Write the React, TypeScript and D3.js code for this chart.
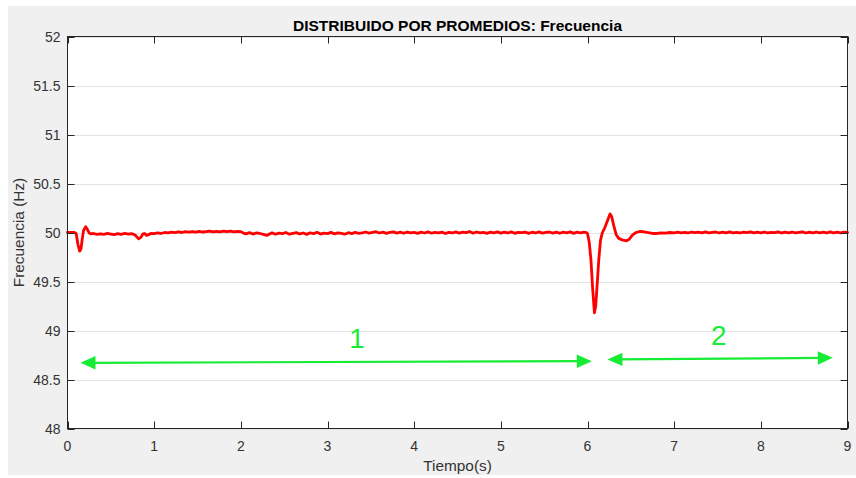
import React from "react";
import * as d3 from "d3";

const W = 856;
const H = 478;

const title = "DISTRIBUIDO POR PROMEDIOS: Frecuencia";
const xLabel = "Tiempo(s)";
const yLabel = "Frecuencia (Hz)";
const xTicks = [0, 1, 2, 3, 4, 5, 6, 7, 8, 9];
const yTicks = [48, 48.5, 49, 49.5, 50, 50.5, 51, 51.5, 52];

// [time (s), frequency (Hz)]
const transient1: [number, number][] = [
  [0, 50.0], [0.04, 50.0], [0.08, 50.0], [0.1, 49.99], [0.12, 49.88], [0.14, 49.81],
  [0.155, 49.83], [0.17, 49.93], [0.185, 50.02], [0.21, 50.06], [0.23, 50.03],
  [0.25, 49.995], [0.27, 49.985], [0.3, 49.99],
  [0.34, 49.98], [0.38, 49.987], [0.42, 49.982], [0.46, 49.99], [0.5, 49.984], [0.54, 49.978],
  [0.58, 49.988], [0.62, 49.982], [0.66, 49.99], [0.7, 49.983], [0.74, 49.988], [0.78, 49.975],
  [0.8, 49.955], [0.82, 49.935], [0.845, 49.95], [0.87, 49.985], [0.89, 49.99], [0.91, 49.97],
  [0.93, 49.975], [0.96, 49.99],
];

const steady1: [number, number][] = [
  [1.0, 49.988], [1.04, 49.995], [1.08, 49.99], [1.12, 50.0], [1.16, 49.996], [1.2, 50.004],
  [1.24, 49.998], [1.28, 50.006], [1.32, 50.0], [1.36, 50.009], [1.4, 50.003], [1.44, 50.01],
  [1.48, 50.004], [1.52, 50.012], [1.56, 50.005], [1.6, 50.01], [1.64, 50.014], [1.68, 50.006],
  [1.72, 50.012], [1.76, 50.007], [1.8, 50.015], [1.84, 50.008], [1.88, 50.013], [1.92, 50.006],
  [1.96, 50.012], [2.0, 50.009],
  [2.03, 49.994], [2.06, 49.986], [2.1, 49.999], [2.14, 49.984], [2.18, 49.996], [2.22, 49.99],
  [2.26, 49.98], [2.3, 49.97], [2.33, 49.985], [2.36, 49.996], [2.4, 49.982], [2.44, 49.994],
  [2.48, 49.988], [2.52, 50.0], [2.56, 49.983], [2.6, 49.992], [2.64, 49.999], [2.68, 49.985],
  [2.72, 49.995], [2.76, 49.981], [2.8, 49.997], [2.84, 49.989], [2.88, 50.002], [2.92, 49.984],
  [2.96, 49.994], [3.0, 49.988], [3.04, 50.001], [3.08, 49.986], [3.12, 49.997], [3.16, 49.99],
  [3.2, 49.983], [3.24, 49.998], [3.28, 49.988], [3.32, 50.001], [3.36, 49.992], [3.4, 49.996],
  [3.44, 50.005], [3.48, 49.993], [3.52, 50.002], [3.56, 50.008], [3.6, 49.995], [3.64, 50.004],
  [3.68, 49.991], [3.72, 50.001], [3.76, 50.006], [3.8, 49.994], [3.84, 50.003], [3.88, 49.992],
  [3.92, 50.005], [3.96, 49.997], [4.0, 50.002], [4.04, 49.991], [4.08, 50.004], [4.12, 49.995],
  [4.16, 50.007], [4.2, 49.993], [4.24, 50.001], [4.28, 49.996], [4.32, 50.004], [4.36, 49.99],
  [4.4, 50.002], [4.44, 49.995], [4.48, 50.006], [4.52, 49.994], [4.56, 50.003], [4.6, 49.998],
  [4.64, 50.01], [4.68, 49.993], [4.72, 50.005], [4.76, 49.996], [4.8, 50.002], [4.84, 49.991],
  [4.88, 50.004], [4.92, 49.997], [4.96, 50.006], [5.0, 49.993], [5.04, 50.003], [5.08, 49.995],
  [5.12, 50.007], [5.16, 49.992], [5.2, 50.002], [5.24, 49.998], [5.28, 50.005], [5.32, 49.991],
  [5.36, 50.003], [5.4, 49.995], [5.44, 50.006], [5.48, 49.993], [5.52, 50.001], [5.56, 50.005],
  [5.6, 49.994], [5.64, 50.004], [5.68, 49.992], [5.72, 50.003], [5.76, 49.996], [5.8, 50.006],
  [5.84, 49.991], [5.88, 50.004], [5.92, 49.995], [5.96, 50.003], [5.99, 49.998],
];

const transient2: [number, number][] = [
  [6.0, 49.99], [6.02, 49.9], [6.04, 49.72], [6.06, 49.42], [6.08, 49.18], [6.095, 49.25],
  [6.11, 49.45], [6.13, 49.72], [6.15, 49.92], [6.17, 49.995], [6.2, 50.05], [6.23, 50.12],
  [6.26, 50.19], [6.28, 50.16], [6.3, 50.08], [6.33, 49.98], [6.36, 49.94], [6.4, 49.925],
  [6.45, 49.915], [6.48, 49.93], [6.52, 49.975], [6.56, 50.0], [6.6, 50.01], [6.64, 50.008],
  [6.7, 49.998], [6.75, 49.99], [6.8, 49.99], [6.85, 49.995], [6.9, 49.993], [6.95, 50.0],
];

const steady2: [number, number][] = [
  [7.0, 49.996], [7.04, 50.004], [7.08, 49.997], [7.12, 50.002], [7.16, 49.995], [7.2, 50.005],
  [7.24, 49.998], [7.28, 50.003], [7.32, 49.996], [7.36, 50.006], [7.4, 49.997], [7.44, 50.002],
  [7.48, 50.005], [7.52, 49.995], [7.56, 50.003], [7.6, 49.997], [7.64, 50.006], [7.68, 49.996],
  [7.72, 50.002], [7.76, 49.995], [7.8, 50.004], [7.84, 49.998], [7.88, 50.006], [7.92, 49.996],
  [7.96, 50.003], [8.0, 49.997], [8.04, 50.005], [8.08, 49.995], [8.12, 50.002], [8.16, 49.998],
  [8.2, 50.006], [8.24, 49.995], [8.28, 50.003], [8.32, 49.997], [8.36, 50.005], [8.4, 49.996],
  [8.44, 50.002], [8.48, 50.006], [8.52, 49.995], [8.56, 50.004], [8.6, 49.997], [8.64, 50.005],
  [8.68, 49.996], [8.72, 50.003], [8.76, 49.995], [8.8, 50.006], [8.84, 49.997], [8.88, 50.003],
  [8.92, 49.996], [8.96, 50.004], [9.0, 50.0],
];

// annotation arrows: [t0, f0, t1, f1]
const arrows: [number, number, number, number][] = [
  [0.15, 48.67, 6.05, 48.687],
  [6.23, 48.704, 8.83, 48.721],
];
const arrowLabels: { text: string; t: number; f: number }[] = [
  { text: "1", t: 3.34, f: 48.823 },
  { text: "2", t: 7.515, f: 48.857 },
];

const FONT = "'Liberation Sans', Arial, Helvetica, sans-serif";
const GREEN = "rgb(22,236,52)";

export default function App() {
  const left = 67.5, right = 847.5, top = 36.5, bottom = 428.5;
  const x = d3.scaleLinear().domain([0, 9]).range([left, right]);
  const y = d3.scaleLinear().domain([48, 52]).range([bottom, top]);
  const data = [...transient1, ...steady1, ...transient2, ...steady2];
  const line = d3
    .line<[number, number]>()
    .x((d) => x(d[0]))
    .y((d) => y(d[1]))
    .curve(d3.curveLinear);
  const tickLen = 7;
  const axisColor = "#262626";

  const arrowHead = (tipX: number, tipY: number, dx: number, dy: number) => {
    const len = Math.hypot(dx, dy);
    const ux = dx / len, uy = dy / len;
    const L = 15, hw = 6.7;
    const bx = tipX - ux * L, by = tipY - uy * L;
    const px = -uy, py = ux;
    return `M${tipX},${tipY}L${bx + px * hw},${by + py * hw}L${bx - px * hw},${by - py * hw}Z`;
  };

  return (
    <svg
      width={W}
      height={H}
      style={{ position: "absolute", left: 0, top: 0, display: "block" }}
      fontFamily={FONT}
    >
      <rect x={0} y={0} width={W} height={H} fill="#ffffff" />
      <rect x={8} y={6} width={W - 8} height={469} fill="#f0f0f0" />
      <rect x={left} y={top} width={right - left} height={bottom - top} fill="#ffffff" />
      {/* grid */}
      {yTicks.map((v) => (
        <line key={"g" + v} x1={left} x2={right} y1={Math.round(y(v)) + 0.5} y2={Math.round(y(v)) + 0.5} stroke="#e3e3e3" strokeWidth={1} />
      ))}
      {/* data line */}
      <path d={line(data) || ""} fill="none" stroke="#ff0000" strokeWidth={2.8} strokeLinejoin="round" strokeLinecap="round" />
      {/* arrows */}
      {arrows.map((a, i) => {
        const x0 = x(a[0]), y0 = y(a[1]), x1 = x(a[2]), y1 = y(a[3]);
        const dx = x1 - x0, dy = y1 - y0;
        return (
          <g key={"a" + i}>
            <line x1={x0 + 8} y1={y0 + (dy / dx) * 8} x2={x1 - 8} y2={y1 - (dy / dx) * 8} stroke={GREEN} strokeWidth={2.2} />
            <path d={arrowHead(x1, y1, dx, dy)} fill={GREEN} />
            <path d={arrowHead(x0, y0, -dx, -dy)} fill={GREEN} />
          </g>
        );
      })}
      {arrowLabels.map((l) => (
        <text key={"l" + l.text} x={x(l.t)} y={y(l.f)} fill={GREEN} fontSize={28} textAnchor="middle">
          {l.text}
        </text>
      ))}
      {/* axes box */}
      <rect x={left} y={top} width={right - left} height={bottom - top} fill="none" stroke={axisColor} strokeWidth={1} />
      {/* x ticks */}
      {xTicks.map((v) => (
        <g key={"x" + v}>
          <line x1={Math.round(x(v)) + 0.5} x2={Math.round(x(v)) + 0.5} y1={bottom} y2={bottom - tickLen} stroke={axisColor} />
          <line x1={Math.round(x(v)) + 0.5} x2={Math.round(x(v)) + 0.5} y1={top} y2={top + tickLen} stroke={axisColor} />
          <text x={x(v)} y={451} fontSize={14} fill="#333" textAnchor="middle">
            {v}
          </text>
        </g>
      ))}
      {/* y ticks */}
      {yTicks.map((v) => (
        <g key={"y" + v}>
          <line x1={left} x2={left + tickLen} y1={Math.round(y(v)) + 0.5} y2={Math.round(y(v)) + 0.5} stroke={axisColor} />
          <line x1={right} x2={right - tickLen} y1={Math.round(y(v)) + 0.5} y2={Math.round(y(v)) + 0.5} stroke={axisColor} />
          <text x={60.5} y={y(v)} dy="0.36em" fontSize={14} fill="#333" textAnchor="end">
            {String(v)}
          </text>
        </g>
      ))}
      {/* labels */}
      <text x={(left + right) / 2} y={30.5} fontSize={15.5} fontWeight="bold" fill="#000" textAnchor="middle">
        {title}
      </text>
      <text x={(left + right) / 2} y={471} fontSize={15.4} fill="#333" textAnchor="middle">
        {xLabel}
      </text>
      <text transform={`translate(24,${(top + bottom) / 2}) rotate(-90)`} fontSize={15.4} fill="#333" textAnchor="middle">
        {yLabel}
      </text>
    </svg>
  );
}
